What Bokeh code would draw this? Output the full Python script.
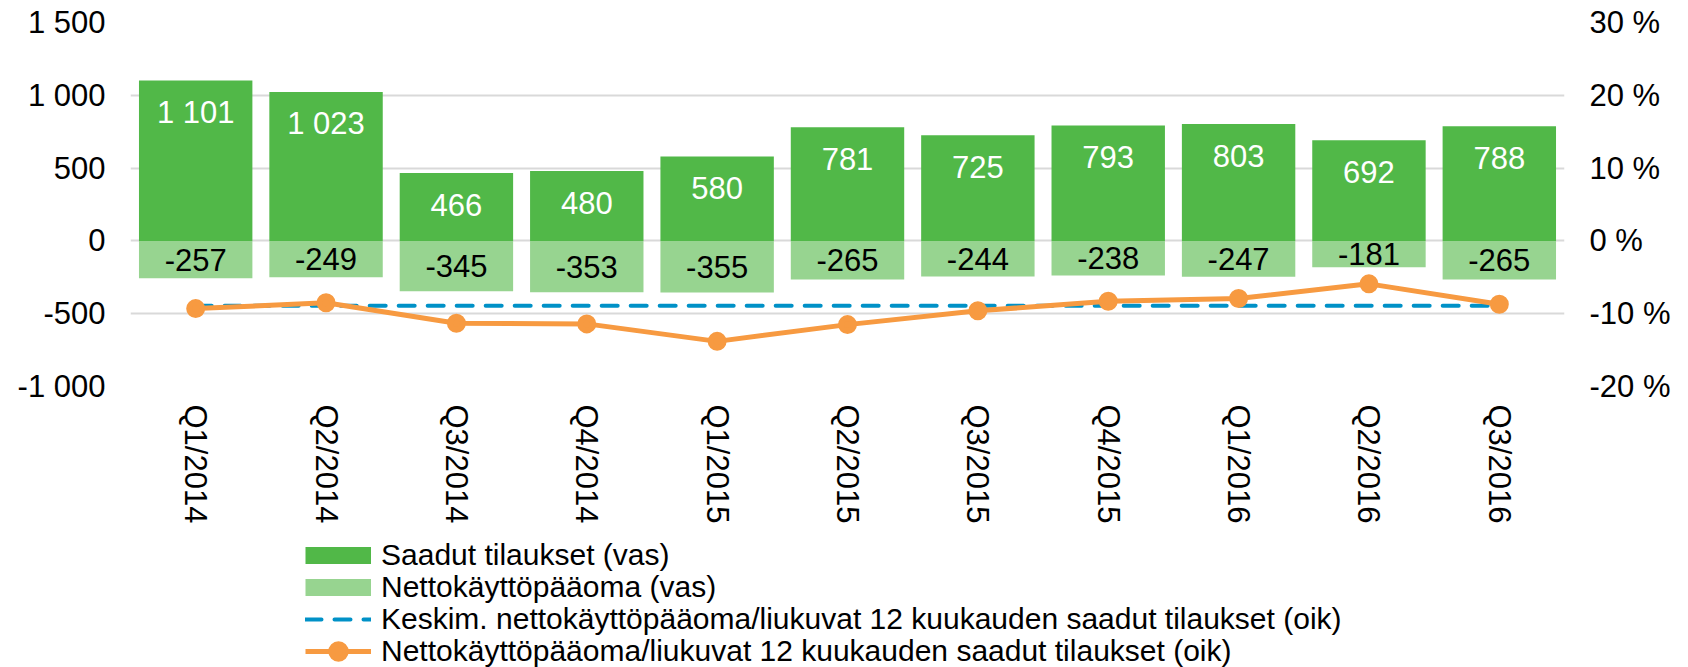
from bokeh.plotting import figure
from bokeh.layouts import column
from bokeh.models import (ColumnDataSource, FactorRange, Range1d, LinearAxis, FixedTicker,
                          CustomJSTickFormatter, Legend, LegendItem)
from bokeh.core.properties import value
from bokeh.embed import file_html
from bokeh.resources import INLINE

# ---------------- data ----------------
quarters = ["Q1/2014", "Q2/2014", "Q3/2014", "Q4/2014", "Q1/2015", "Q2/2015",
            "Q3/2015", "Q4/2015", "Q1/2016", "Q2/2016", "Q3/2016"]
orders = [1101, 1023, 466, 480, 580, 781, 725, 793, 803, 692, 788]
nwc = [-257, -249, -345, -353, -355, -265, -244, -238, -247, -181, -265]
ratio_pct = [-9.3, -8.5, -11.3, -11.4, -13.8, -11.5, -9.6, -8.3, -7.9, -5.9, -8.7]
avg_ratio_pct = [-8.9, -8.9, -8.9, -8.9, -8.9, -8.9, -8.9, -8.9, -8.9, -8.9, -8.9]
left_ticks = [-1000, -500, 0, 500, 1000, 1500]
right_ticks = [-20, -10, 0, 10, 20, 30]
legend_labels = ["Saadut tilaukset (vas)",
                 "Nettokäyttöpääoma (vas)",
                 "Keskim. nettokäyttöpääoma/liukuvat 12 kuukauden saadut tilaukset (oik)",
                 "Nettokäyttöpääoma/liukuvat 12 kuukauden saadut tilaukset (oik)"]

# ---------------- styles ----------------
FONT = "Liberation Sans"
FS = "31px"
LFS = "30px"
DARK = "#51B848"
LIGHT = "#97D490"
ORANGE = "#F79A41"
BLUE = "#0091C7"
GRID = "#D9D9D9"

src = ColumnDataSource(dict(
    q=quarters,
    orders=orders,
    nwc=nwc,
    nwc_mid=[v / 2 for v in nwc],
    orders_txt=[f"{v:,}".replace(",", " ") for v in orders],
    nwc_txt=[str(v) for v in nwc],
    ratio=ratio_pct,
    avg=avg_ratio_pct,
))

p = figure(width=1688, height=530, output_backend="svg", toolbar_location=None,
           x_range=FactorRange(*quarters, range_padding=0),
           y_range=Range1d(-1000, 1500),
           min_border_left=130, min_border_right=124, min_border_top=22,
           min_border_bottom=144, outline_line_color=None)
p.extra_y_ranges = {"pct": Range1d(-20, 30)}

# bars
p.vbar(x="q", top="orders", bottom=0, width=0.87, source=src, fill_color=DARK, line_color=None)
p.vbar(x="q", top=0, bottom="nwc", width=0.87, source=src, fill_color=LIGHT, line_color=None)

# bar labels
p.text(x="q", y="orders", text="orders_txt", source=src, y_offset=32,
       text_align="center", text_baseline="middle", text_color="white",
       text_font=value(FONT), text_font_size=FS)
p.text(x="q", y="nwc_mid", text="nwc_txt", source=src,
       text_align="center", text_baseline="middle", text_color="black",
       text_font=value(FONT), text_font_size=FS)

# lines
p.line(x="q", y="avg", source=src, y_range_name="pct", line_color=BLUE,
       line_width=4, line_dash="16 13", line_cap="round")
p.line(x="q", y="ratio", source=src, y_range_name="pct", line_color=ORANGE, line_width=5)
p.scatter(x="q", y="ratio", source=src, y_range_name="pct", size=13,
          fill_color=ORANGE, line_color=ORANGE, line_width=6)

# axes
p.yaxis.ticker = FixedTicker(ticks=left_ticks)
p.yaxis.formatter = CustomJSTickFormatter(
    code="return tick.toString().replace(/\\B(?=(\\d{3})+(?!\\d))/g, ' ');")
p.add_layout(LinearAxis(y_range_name="pct", ticker=FixedTicker(ticks=right_ticks),
                        formatter=CustomJSTickFormatter(code="return tick + ' %';")), "right")

for ax in p.yaxis + p.xaxis:
    ax.axis_line_color = None
    ax.major_tick_line_color = None
    ax.minor_tick_line_color = None
    ax.major_tick_out = 0
    ax.major_tick_in = 0
    ax.major_label_text_font = FONT
    ax.major_label_text_font_size = FS
    ax.major_label_text_color = "#000000"

p.yaxis[0].major_label_standoff = 25
p.yaxis[1].major_label_standoff = 25
p.xaxis.major_label_orientation = "vertical"
p.xaxis.major_label_standoff = 18

p.xgrid.grid_line_color = None
p.ygrid.grid_line_color = GRID
p.ygrid.grid_line_width = 2
p.ygrid.ticker = FixedTicker(ticks=left_ticks)

# ---------------- legend figure (proxy glyphs styled like the series) ----------------
LF_H = 137
lf = figure(width=1688, height=LF_H, output_backend="svg", toolbar_location=None,
            x_range=Range1d(0, 1), y_range=Range1d(0, 1),
            x_axis_location=None, y_axis_location=None,
            min_border=0, outline_line_color=None)
lf.grid.visible = False
proxy = ColumnDataSource(dict(x=[float("nan")], y=[float("nan")]))
r_dark = lf.line(x="x", y="y", source=proxy, line_color=DARK, line_width=17, line_cap="butt")
r_light = lf.line(x="x", y="y", source=proxy, line_color=LIGHT, line_width=17, line_cap="butt")
r_dash = lf.line(x="x", y="y", source=proxy, line_color=BLUE, line_width=4,
                 line_dash="16 13", line_cap="round")
r_line = lf.line(x="x", y="y", source=proxy, line_color=ORANGE, line_width=5)
r_pts = lf.scatter(x="x", y="y", source=proxy, size=13, fill_color=ORANGE,
                   line_color=ORANGE, line_width=6)

ROW_H = 36
row_centers = [24.5, 56.5, 88.5, 120.5]
row_renderers = [[r_dark], [r_light], [r_dash], [r_line, r_pts]]
for label, rends, yc in zip(legend_labels, row_renderers, row_centers):
    lg = Legend(items=[LegendItem(label=label, renderers=rends)],
                location=(175, LF_H - (yc + ROW_H / 2)),
                glyph_width=66, glyph_height=ROW_H, label_height=ROW_H,
                label_standoff=10, padding=0, margin=0, spacing=0,
                border_line_color=None, background_fill_alpha=0,
                label_text_font=FONT, label_text_font_size=LFS,
                label_text_color="#000000")
    lf.add_layout(lg, "center")

layout = column(p, lf, spacing=0)
open("out.html", "w").write(file_html(layout, INLINE))
